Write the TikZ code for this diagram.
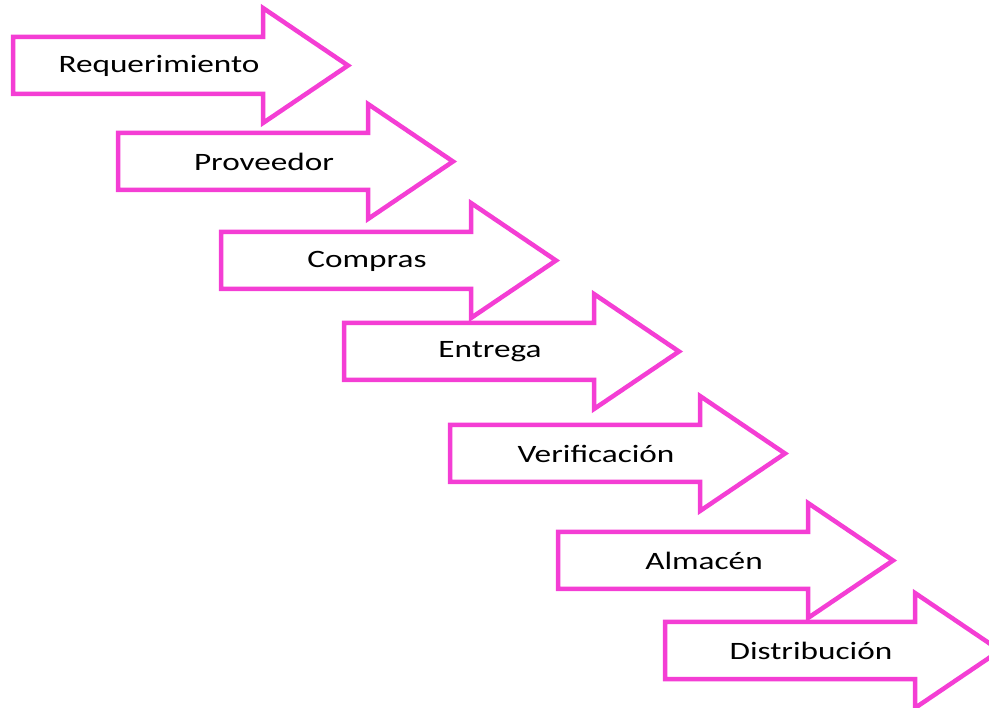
\documentclass[tikz,border=0pt]{standalone}
\usepackage{fontspec}
\newfontfamily\calfont[FakeStretch=1.33]{Carlito}
\definecolor{arrowpink}{RGB}{244,62,212}
\begin{document}
\begin{tikzpicture}[x=1pt,y=-1pt,
  arrowshape/.style={draw=arrowpink,line width=4.5pt,fill=white,line join=miter},
  lbl/.style={font=\calfont\fontsize{25}{30}\selectfont,text=black,inner sep=0pt,anchor=center}]
\useasboundingbox (0,0) rectangle (989,708);
\clip (0,0) rectangle (989,708);
\foreach \L/\T/\txt/\nm in {13/37/Requerimiento/req,118/133/Proveedor/prov,221/232/Compras/comp,344/323/Entrega/entr,450/425/Verificación/verif,558/532/Almacén/alm,665/622/Distribución/dist}{
  \draw[arrowshape] (\L,\T) -- (\L+250,\T) -- (\L+250,\T-29) -- (\L+335,\T+28.5) -- (\L+250,\T+86) -- (\L+250,\T+57) -- (\L,\T+57) -- cycle;
  \node[lbl] (\nm) at (\L+146,\T+29) {\txt};
}
\end{tikzpicture}
\end{document}
